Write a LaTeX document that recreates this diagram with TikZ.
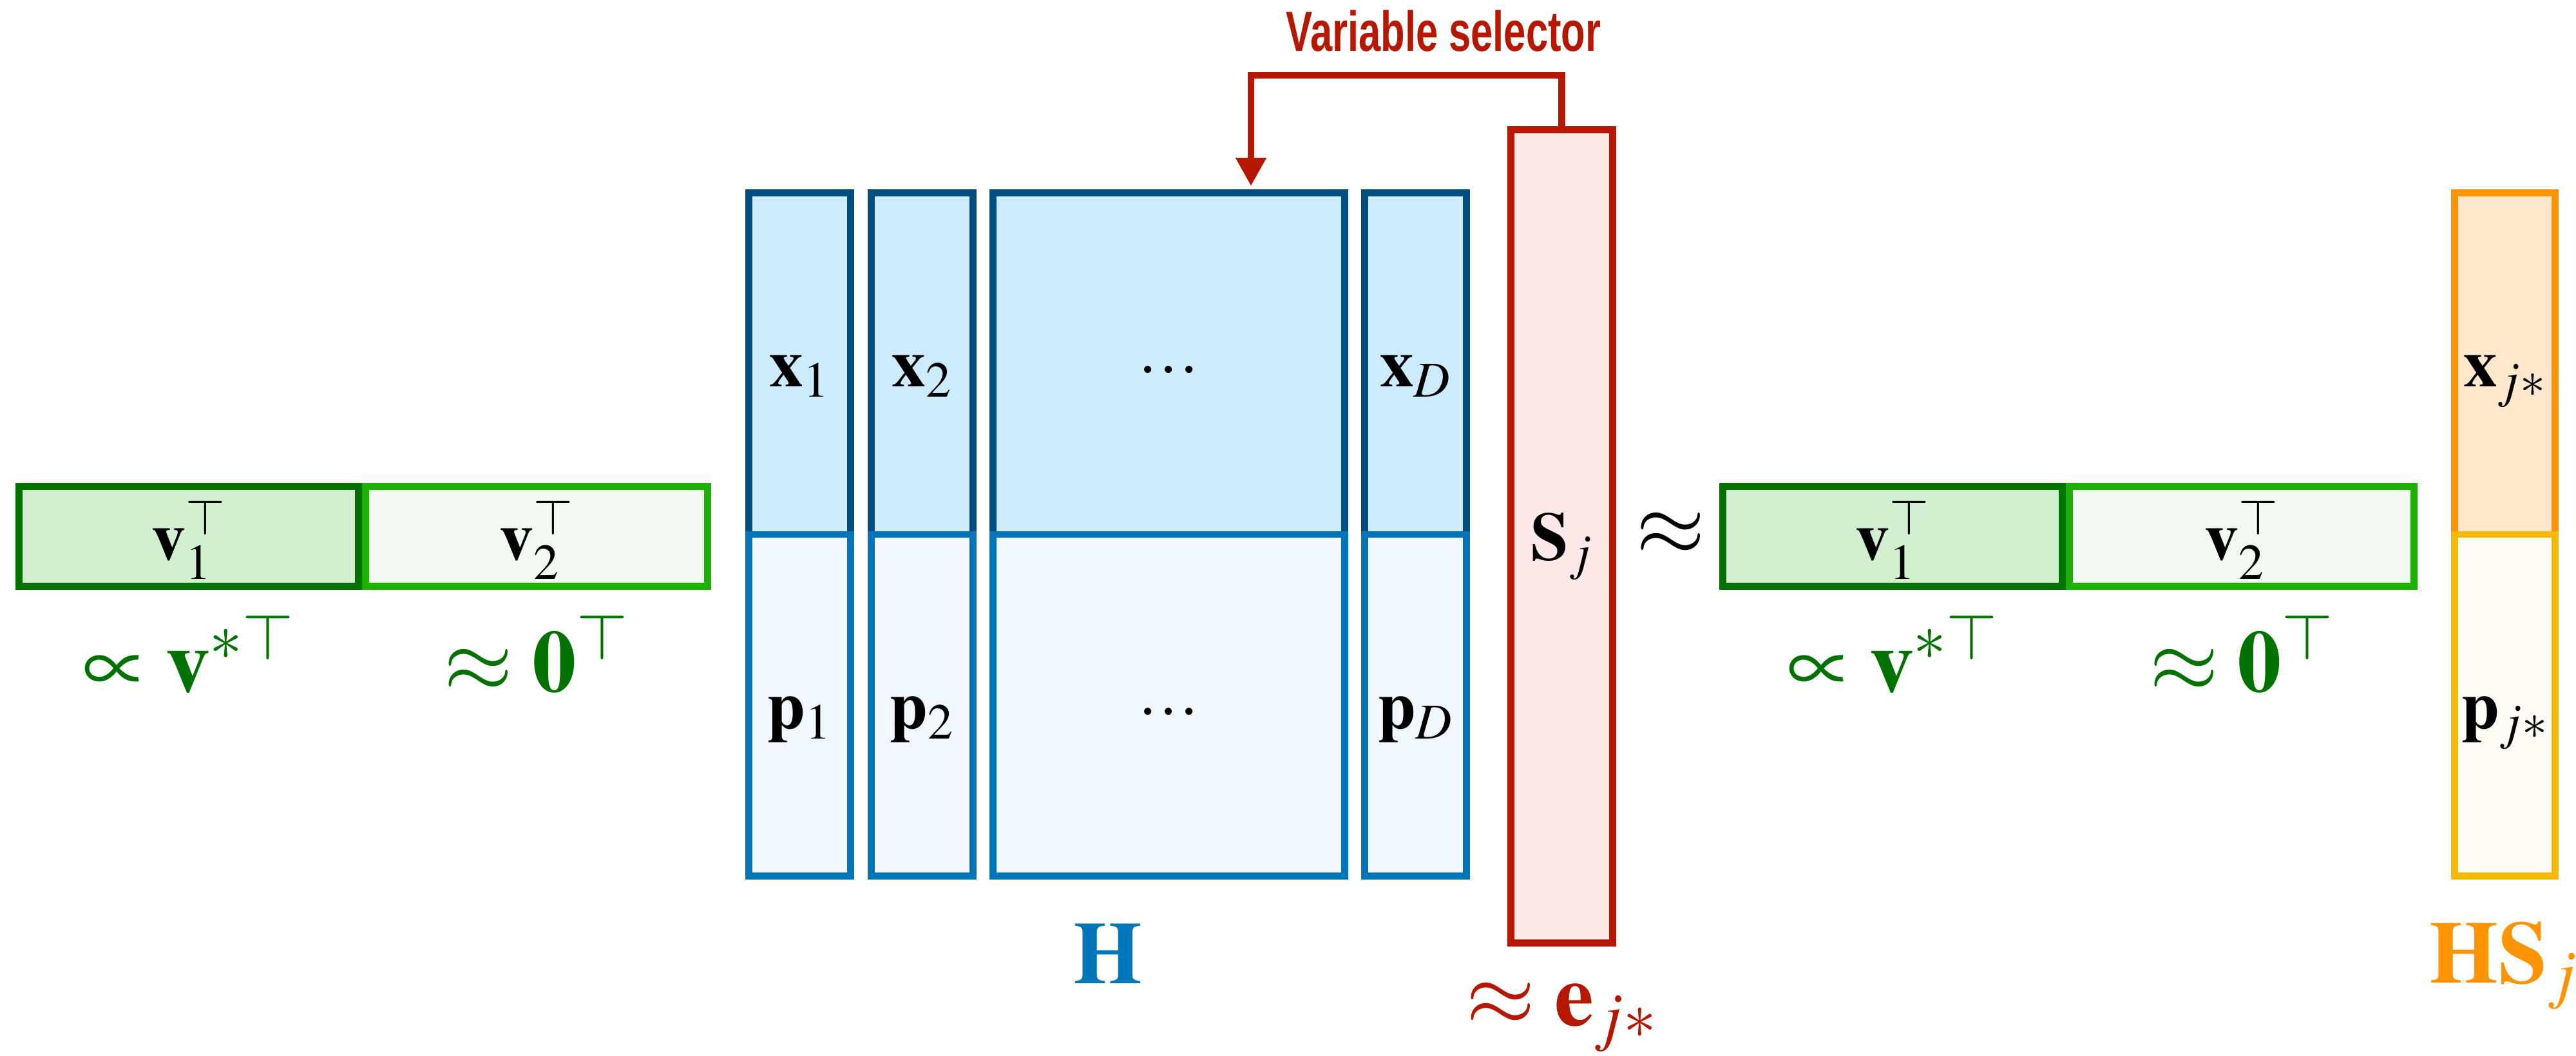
\documentclass[tikz,border=0pt]{standalone}
\usepackage[no-math]{fontspec}
\usepackage{mathptmx}
\usepackage{graphicx}
\usetikzlibrary{positioning,calc,arrows.meta}
\newfontfamily\selfont{Liberation Sans}

% Keynote-like palette
\definecolor{hxline}{HTML}{004D80}
\definecolor{hxfill}{HTML}{CCEBFD}
\definecolor{hpline}{HTML}{0076BA}
\definecolor{hpfill}{HTML}{F0F7FE}
\definecolor{selred}{HTML}{B51700}
\definecolor{selfill}{HTML}{FCE8E6}
\definecolor{vonedraw}{HTML}{017100}
\definecolor{vonefill}{HTML}{D2EFD0}
\definecolor{vtwodraw}{HTML}{1DB100}
\definecolor{vtwofill}{HTML}{F2F9F1}
\definecolor{hsxline}{HTML}{FF9300}
\definecolor{hsxfill}{HTML}{FFE7CC}
\definecolor{hspline}{HTML}{F8BA00}
\definecolor{hspfill}{HTML}{FDFBF4}

\begin{document}
\begin{tikzpicture}[
        % Common look of every cell (text sits a bit below the middle)
        cell/.style={draw,line width=3.1pt,inner sep=0pt,
            text height=0.72cm,text depth=0pt,
            font=\fontsize{30}{36}\selectfont},
        % Upper and lower blocks of H
        hxbox/.style={cell,draw=hxline,fill=hxfill,minimum height=5.305cm},
        hpbox/.style={cell,draw=hpline,fill=hpfill,minimum height=5.305cm},
        % Upper and lower blocks of HS_j
        hsxbox/.style={cell,draw=hsxline,fill=hsxfill,minimum width=1.56cm,minimum height=5.305cm},
        hspbox/.style={cell,draw=hspline,fill=hspfill,minimum width=1.56cm,minimum height=5.305cm},
        % Row vector blocks
        vonebox/.style={cell,draw=vonedraw,fill=vonefill,minimum height=1.55cm},
        vtwobox/.style={cell,draw=vtwodraw,fill=vtwofill,minimum height=1.55cm},
        % Selector column
        selbox/.style={cell,draw=selred,fill=selfill,minimum width=1.58cm,minimum height=12.63cm},
        % Captions below the blocks
        caption/.style={inner sep=0pt,anchor=base,font=\fontsize{39}{47}\selectfont},
        selarrow/.style={draw=selred,line width=3.1pt,-{Triangle[length=0.44cm,width=0.45cm]}}
    ]

    % Fix the page to the size of the picture
    \useasboundingbox (0,0) rectangle (39.99,-16.39);

    % Left row vector
    \node[vonebox,minimum width=5.27cm] (lvone) at (2.93,-8.33) {$\mathbf{v}_1^{\top}$};
    \node[vtwobox,minimum width=5.31cm] (lvtwo) at (8.33,-8.33) {$\mathbf{v}_2^{\top}$};
    \node[caption,text=vonedraw] (lvonecap) at (2.93,-10.74) {$\propto \mathbf{v}^{*\top}$};
    \node[caption,text=vonedraw] (lvtwocap) at (8.33,-10.74) {$\approx \mathbf{0}^{\top}$};

    % Columns of H
    \foreach \cx/\w/\xl/\pl [count=\i] in {12.415/1.58/\mathbf{x}_1/\mathbf{p}_1,
                                           14.315/1.58/\mathbf{x}_2/\mathbf{p}_2,
                                           18.145/5.46/\cdot\!\cdot\!\cdot/\cdot\!\cdot\!\cdot,
                                           21.975/1.58/\mathbf{x}_D/\mathbf{p}_D}
    {
        \node[hxbox,minimum width=\w cm] (hx\i) at (\cx,-5.6475) {$\xl$};
        \node[hpbox,minimum width=\w cm] (hp\i) at (\cx,-10.9525) {$\pl$};
    }
    \node[caption,text=hpline] (hcap) at (17.195,-15.27) {$\mathbf{H}$};

    % Selector column
    \node[selbox] (sel) at (24.245,-8.33) {$\mathbf{S}_j$};
    \node[caption,text=selred] (selcap) at (24.245,-15.92) {$\approx \mathbf{e}_{j*}$};

    \node[inner sep=0pt,font=\fontsize{39}{47}\selectfont] (approx) at (25.94,-8.29) {$\approx$};

    % Right row vector
    \node[vonebox,minimum width=5.27cm] (rvone) at (29.38,-8.33) {$\mathbf{v}_1^{\top}$};
    \node[vtwobox,minimum width=5.35cm] (rvtwo) at (34.80,-8.33) {$\mathbf{v}_2^{\top}$};
    \node[caption,text=vonedraw] (rvonecap) at (29.38,-10.74) {$\propto \mathbf{v}^{*\top}$};
    \node[caption,text=vonedraw] (rvtwocap) at (34.80,-10.74) {$\approx \mathbf{0}^{\top}$};

    % Result column HS_j
    \node[hsxbox] (hsx) at (38.885,-5.6475) {$\mathbf{x}_{j*}$};
    \node[hspbox] (hsp) at (38.885,-10.9525) {$\mathbf{p}_{j*}$};
    \node[caption,text=hsxline] (hscap) at (38.87,-15.26) {$\mathbf{HS}_j$};

    % Variable selector connector
    \node[inner sep=0pt,anchor=base east,text=selred,font=\selfont\bfseries\fontsize{25}{30}\selectfont]
        (seltext) at (24.86,-0.79) {\scalebox{0.70}[1]{Variable selector}};
    \coordinate (bend) at (24.245,-1.17);
    \coordinate (pick) at (19.42,-2.89);
    \draw[selarrow] (sel.north) -- (bend) -| (pick);

\end{tikzpicture}
\end{document}
